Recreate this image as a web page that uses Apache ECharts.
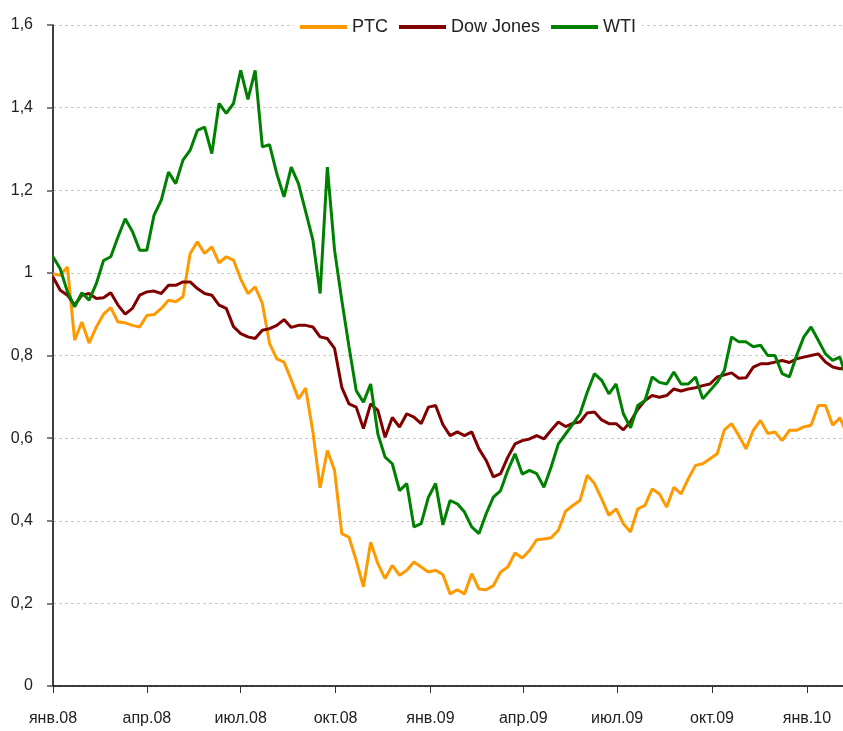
<!DOCTYPE html>
<html>
<head>
<meta charset="UTF-8">
<title>PTC, Dow Jones, WTI</title>
<script src="https://cdn.jsdelivr.net/npm/echarts@6/dist/echarts.min.js"></script>
<style>
  html, body { margin: 0; padding: 0; background: #fff; }
  #main { width: 843px; height: 731px; }
</style>
</head>
<body>
<div id="main"></div>
<script type="text/javascript">
// подписи оси X и даты их делений
var tickLabels = ['янв.08', 'апр.08', 'июл.08', 'окт.08', 'янв.09', 'апр.09', 'июл.09', 'окт.09', 'янв.10'];
var tickDates = ['2008-01-01', '2008-04-01', '2008-07-01', '2008-10-01', '2009-01-01', '2009-04-01', '2009-07-01', '2009-10-01', '2010-01-01'];
var startDate = '2008-01-01';
var stepDays = 7; // значения сняты раз в неделю
var lastDay = 766;

// индексы, нормированные на 1 (начало 2008)
var ptc = [0.998, 0.994, 1.014, 0.837, 0.881, 0.83, 0.869, 0.90, 0.916, 0.881,
  0.879, 0.873, 0.869, 0.897, 0.899, 0.914, 0.934, 0.93, 0.942, 1.047,
  1.075, 1.047, 1.063, 1.024, 1.039, 1.031, 0.985, 0.95, 0.966, 0.926,
  0.829, 0.792, 0.784, 0.741, 0.695, 0.721, 0.615, 0.48, 0.57, 0.522,
  0.369, 0.36, 0.304, 0.24, 0.348, 0.296, 0.26, 0.292, 0.268, 0.28,
  0.30, 0.288, 0.276, 0.28, 0.27, 0.223, 0.233, 0.223, 0.272, 0.235,
  0.233, 0.243, 0.276, 0.288, 0.322, 0.31, 0.328, 0.354, 0.356, 0.359,
  0.377, 0.423, 0.437, 0.449, 0.51, 0.49, 0.453, 0.413, 0.429, 0.393,
  0.373, 0.429, 0.437, 0.477, 0.465, 0.433, 0.481, 0.465, 0.502, 0.534,
  0.538, 0.55, 0.562, 0.62, 0.635, 0.606, 0.574, 0.619, 0.643, 0.611,
  0.615, 0.594, 0.619, 0.619, 0.627, 0.631, 0.679, 0.679, 0.631, 0.649,
  0.61];

var dow = [0.99, 0.958, 0.946, 0.922, 0.946, 0.95, 0.938, 0.94, 0.952, 0.922,
  0.90, 0.914, 0.946, 0.954, 0.956, 0.95, 0.97, 0.97, 0.978, 0.978,
  0.962, 0.95, 0.946, 0.922, 0.914, 0.87, 0.853, 0.845, 0.841, 0.861,
  0.865, 0.873, 0.887, 0.868, 0.873, 0.873, 0.869, 0.845, 0.841, 0.817,
  0.723, 0.683, 0.675, 0.623, 0.683, 0.667, 0.602, 0.65, 0.627, 0.659,
  0.651, 0.635, 0.675, 0.679, 0.633, 0.606, 0.615, 0.606, 0.615, 0.574,
  0.546, 0.506, 0.514, 0.554, 0.586, 0.594, 0.598, 0.606, 0.598, 0.619,
  0.639, 0.628, 0.636, 0.639, 0.661, 0.663, 0.644, 0.635, 0.635, 0.62,
  0.64, 0.67, 0.691, 0.703, 0.699, 0.703, 0.719, 0.714, 0.719, 0.722,
  0.727, 0.731, 0.748, 0.753, 0.758, 0.745, 0.746, 0.772, 0.78, 0.78,
  0.784, 0.788, 0.783, 0.792, 0.796, 0.80, 0.804, 0.784, 0.772, 0.768,
  0.77];

var wti = [1.039, 1.01, 0.954, 0.918, 0.952, 0.934, 0.974, 1.03, 1.039, 1.087,
  1.131, 1.10, 1.055, 1.055, 1.14, 1.176, 1.244, 1.216, 1.273, 1.297,
  1.345, 1.353, 1.289, 1.41, 1.386, 1.41, 1.49, 1.42, 1.49, 1.305,
  1.31, 1.24, 1.184, 1.256, 1.216, 1.148, 1.079, 0.95, 1.256, 1.055,
  0.934, 0.821, 0.715, 0.687, 0.731, 0.61, 0.554, 0.538, 0.473, 0.49,
  0.385, 0.393, 0.457, 0.49, 0.39, 0.449, 0.441, 0.421, 0.385, 0.369,
  0.417, 0.457, 0.473, 0.522, 0.562, 0.513, 0.522, 0.514, 0.481, 0.53,
  0.586, 0.61, 0.634, 0.659, 0.711, 0.756, 0.74, 0.707, 0.731, 0.659,
  0.625, 0.679, 0.691, 0.748, 0.735, 0.731, 0.76, 0.731, 0.731, 0.748,
  0.695, 0.715, 0.735, 0.764, 0.845, 0.833, 0.833, 0.821, 0.825, 0.80,
  0.80, 0.756, 0.748, 0.80, 0.845, 0.869, 0.837, 0.804, 0.788, 0.796,
  0.74];

var seriesNames = ['PTC', 'Dow Jones', 'WTI'];
var seriesColors = ['#FF9900', '#800000', '#008000'];

function dayOf(s) {
  return Math.round((Date.parse(s) - Date.parse(startDate)) / 86400000);
}
var tickDays = tickDates.map(dayOf);

function toPairs(arr) {
  return arr.map(function (v, i) { return [i * stepDays, v]; });
}

var myChart = echarts.init(document.getElementById('main'));
var font = 'Arial, "Liberation Sans", sans-serif';

var option = {
  animation: false,
  backgroundColor: '#fff',
  textStyle: { fontFamily: font },
  legend: {
    left: 294,
    top: 16,
    padding: [2, 6],
    backgroundColor: '#fff',
    icon: 'rect',
    itemWidth: 47,
    itemHeight: 4,
    itemGap: 11,
    textStyle: { fontSize: 18, color: '#222', fontFamily: font },
    data: seriesNames
  },
  grid: { left: 53, right: 0, top: 25, bottom: 45 },
  xAxis: {
    type: 'value',
    min: 0,
    max: lastDay,
    axisLine: { onZero: false, lineStyle: { color: '#000', width: 1.5 } },
    axisTick: { show: true, customValues: tickDays, length: 7, lineStyle: { color: '#333' } },
    axisLabel: {
      customValues: tickDays,
      margin: 25,
      fontSize: 16,
      color: '#222',
      formatter: function (v) {
        var k = tickDays.indexOf(v);
        return k >= 0 ? tickLabels[k] : '';
      }
    },
    splitLine: { show: false }
  },
  yAxis: {
    type: 'value',
    min: 0,
    max: 1.6,
    interval: 0.2,
    axisLine: { show: true, lineStyle: { color: '#000', width: 1.5 } },
    axisTick: { show: true, length: 6, lineStyle: { color: '#555', width: 1.5 } },
    axisLabel: {
      margin: 20,
      fontSize: 16,
      color: '#222',
      formatter: function (v) {
        return String(Math.round(v * 10) / 10).replace('.', ',');
      }
    },
    splitLine: { show: true, lineStyle: { color: '#c8c8c8', type: [3, 3] } }
  },
  series: [ptc, dow, wti].map(function (arr, k) {
    return {
      name: seriesNames[k],
      type: 'line',
      data: toPairs(arr),
      symbol: 'none',
      clip: true,
      color: seriesColors[k],
      lineStyle: { width: 3, color: seriesColors[k] }
    };
  })
};
myChart.setOption(option);
</script>
</body>
</html>
